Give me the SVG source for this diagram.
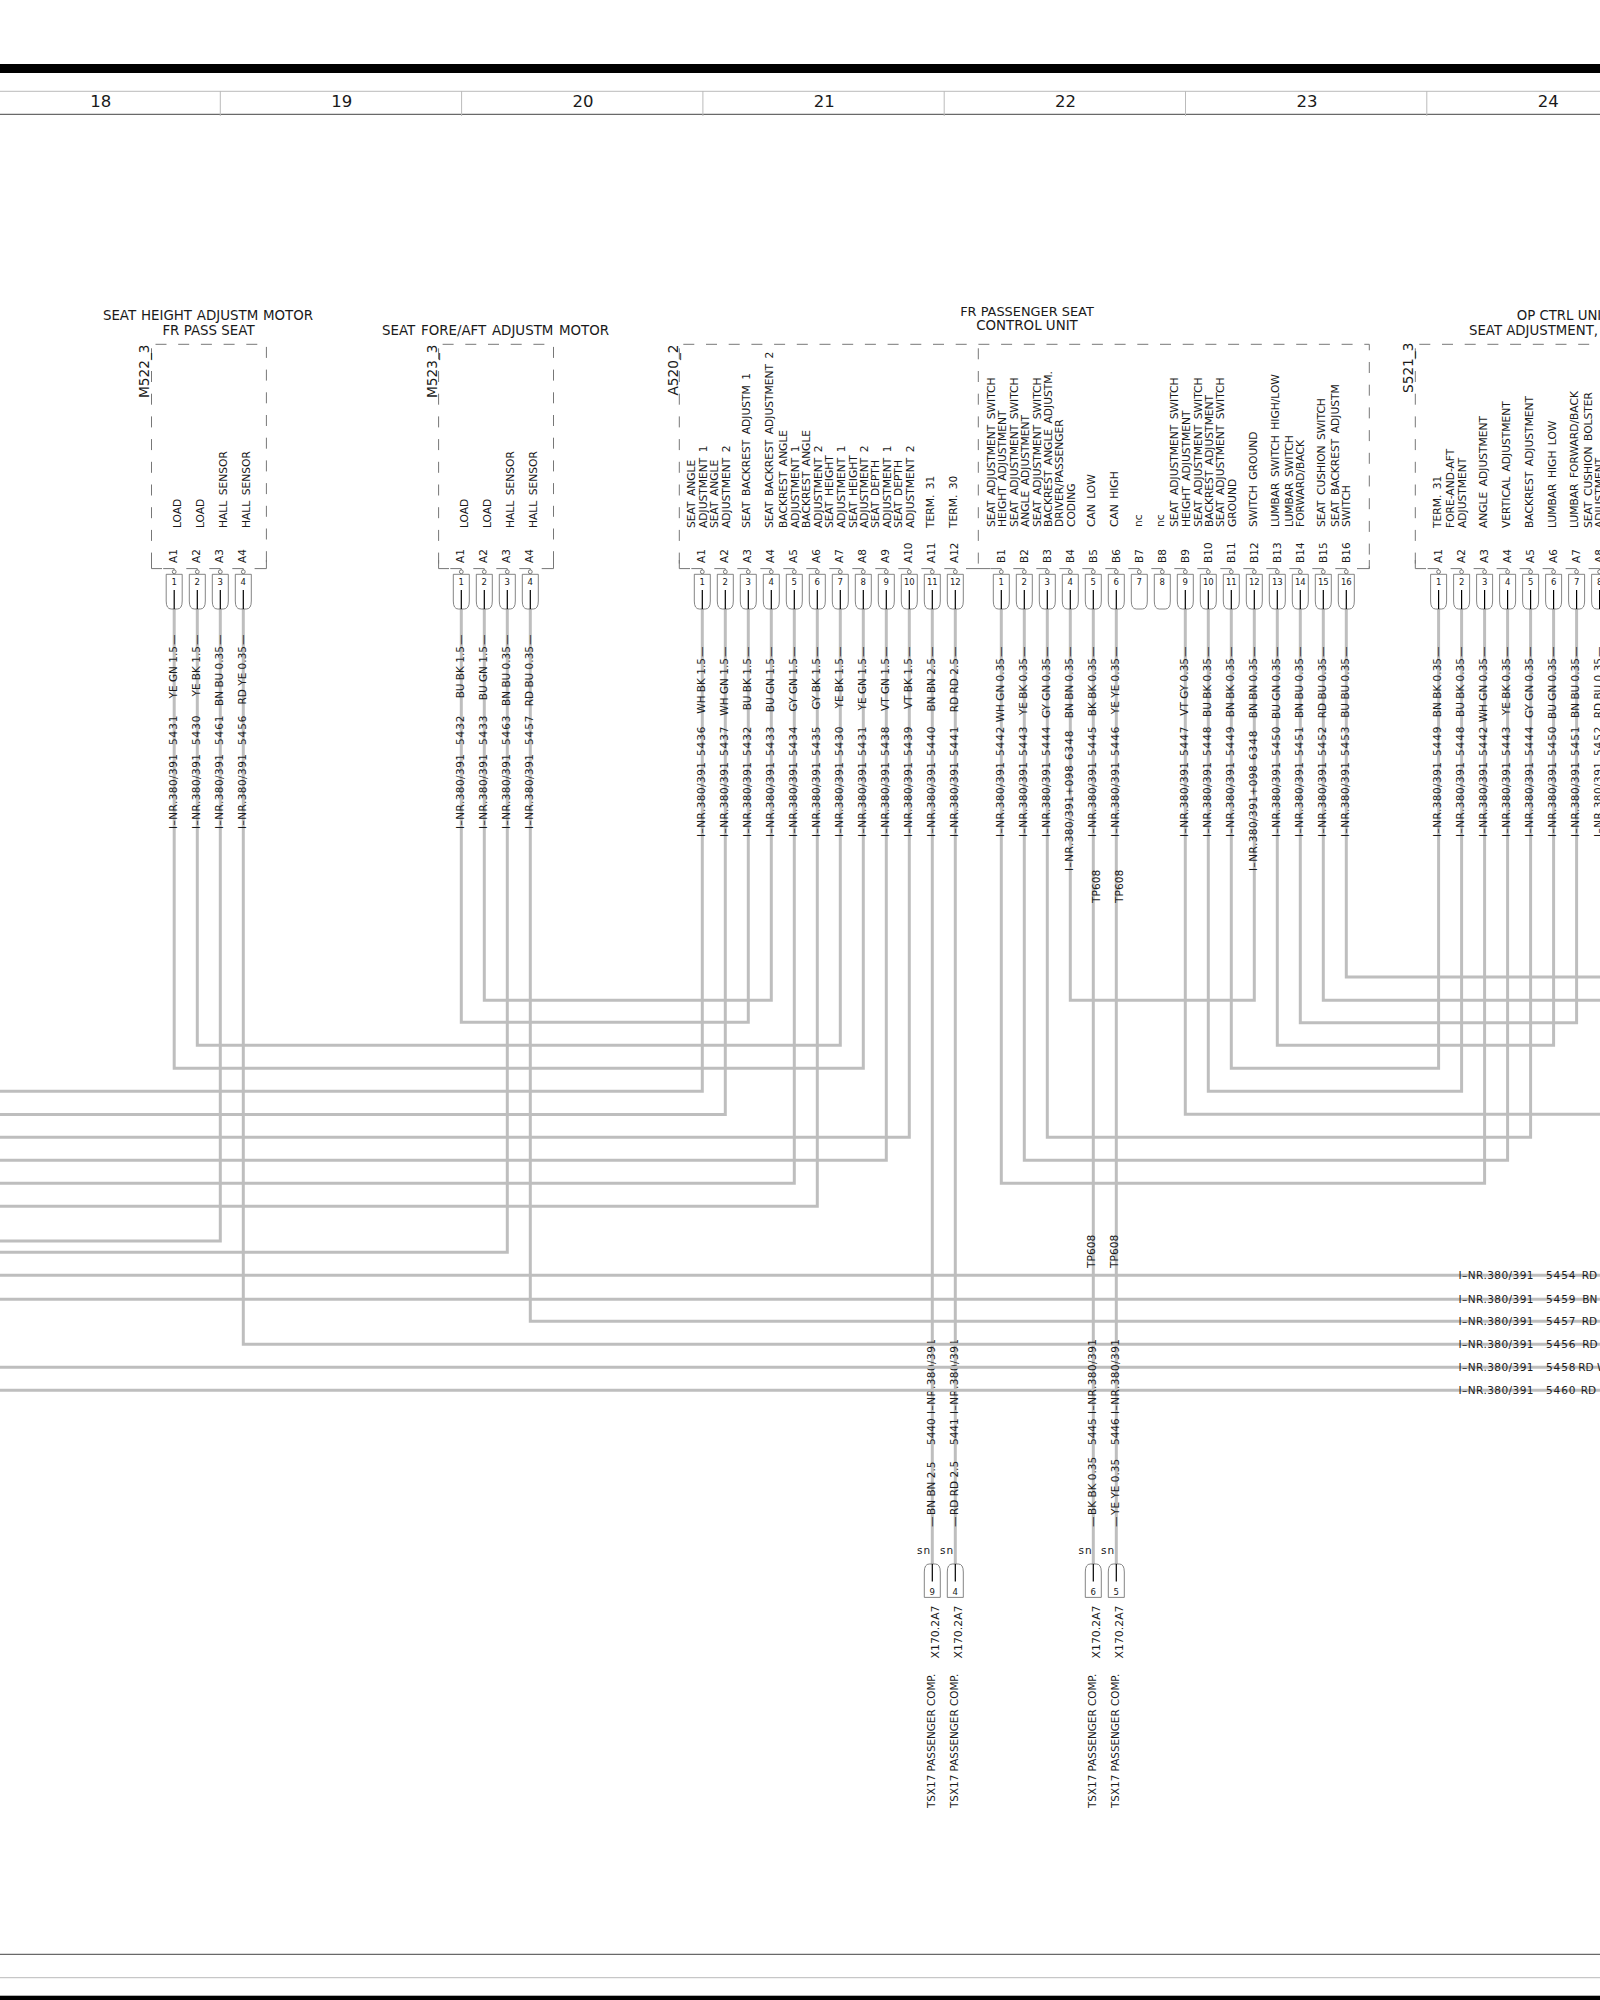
<svg xmlns="http://www.w3.org/2000/svg" xmlns:xlink="http://www.w3.org/1999/xlink" width="1600" height="2000" viewBox="0 0 1600 2000">
<style>
text{font-family:"DejaVu Sans",sans-serif;fill:#1a1a1a}
.w{fill:none;stroke:#bebebe;stroke-width:3}
.box{fill:none;stroke:#777;stroke-width:1;stroke-dasharray:11 11.7;stroke-dashoffset:-4}
.c{fill:none;stroke:#777;stroke-width:1}
.p{fill:none;stroke:#666;stroke-width:.8}
.k{fill:none;stroke:#000;stroke-width:1.2}
.ttl{font-size:13.4px;text-anchor:middle}
.ttl2{font-size:13.3px}
.dev{font-size:13.7px}
.f{font-size:10.7px;word-spacing:2px}
.l{font-size:10.5px}
.n{font-size:8.5px;text-anchor:middle}
.col{font-size:16.5px;text-anchor:middle}
.a{letter-spacing:.45px}
.b{letter-spacing:.9px}
.e{text-anchor:end}
.sn{font-size:10.5px;letter-spacing:1px;text-anchor:middle}
.t1{font-size:10.4px}
.t2{font-size:10.9px}
</style>
<defs>
<g id="pinhead">
<path class="c" d="M-11 568.6H0V570"/>
<circle class="c" cx="0" cy="571.8" r="1.9"/>
<path class="p" d="M-8 574.3H8V601Q8 609 3 609H-3Q-8 609-8 601Z"/>
</g>
<g id="pin"><use href="#pinhead"/><path class="k" d="M0 590V609"/></g>
<g id="plug"><path class="p" d="M-8 1597.4V1572Q-8 1564-3 1564H3Q8 1564 8 1572V1597.4Z"/><path class="k" d="M0 1564V1581.6"/></g>
</defs>
<rect width="1600" height="2000" fill="#fff"/>
<g id="frame">
<rect x="0" y="64" width="1600" height="9" fill="#000"/>
<path d="M0 91.3H1600" stroke="#bbb" stroke-width="1"/>
<path d="M0 114.3H1600" stroke="#444" stroke-width="1"/>
<path d="M220.3 91V116M461.6 91V116M702.9 91V116M944.2 91V116M1185.5 91V116M1426.8 91V116" stroke="#bbb" stroke-width="1" fill="none"/>
<text class="col" x="100.7" y="107.3">18</text>
<text class="col" x="341.7" y="107.3">19</text>
<text class="col" x="583" y="107.3">20</text>
<text class="col" x="824.3" y="107.3">21</text>
<text class="col" x="1065.6" y="107.3">22</text>
<text class="col" x="1306.9" y="107.3">23</text>
<text class="col" x="1548.2" y="107.3">24</text>
<path d="M0 1954.3H1600" stroke="#444" stroke-width="1"/>
<path d="M0 1977.7H1600" stroke="#bbb" stroke-width="1"/>
<rect x="0" y="1995.7" width="1600" height="4.3" fill="#000"/>
</g>
<g id="connectors">
<path class="w" d="M932.3 609V1564M955.3 609V1564"/>
<text class="l" transform="translate(934.8 1529) rotate(-90)"><tspan x="2">—</tspan><tspan x="14">BN BN 2.5</tspan><tspan x="84">5440</tspan><tspan class="a" x="115">I–NR.380/391</tspan></text>
<text class="l" transform="translate(957.8 1529) rotate(-90)"><tspan x="2">—</tspan><tspan x="14">RD RD 2.5</tspan><tspan x="84">5441</tspan><tspan class="a" x="115">I–NR.380/391</tspan></text>
<path class="w" d="M1093.3 609V1564M1116.3 609V1564"/>
<path class="w" d="M174.2 609V1068.3H863.3V609"/>
<path class="w" d="M197.3 609V1045.3H840.3V609"/>
<path class="w" d="M220.3 609V1241H0"/>
<path class="w" d="M243.3 609V1344.3H1600"/>
<path class="w" d="M461.3 609V1022.3H748.3V609"/>
<path class="w" d="M484.3 609V1000.3H771.3V609"/>
<path class="w" d="M507.3 609V1252.3H0"/>
<path class="w" d="M530.3 609V1321.3H1600"/>
<path class="w" d="M702.3 609V1091.3H0"/>
<path class="w" d="M725.3 609V1114.5H0"/>
<path class="w" d="M794.3 609V1183.3H0"/>
<path class="w" d="M817.3 609V1206.3H0"/>
<path class="w" d="M886.3 609V1160.3H0"/>
<path class="w" d="M909.3 609V1137.3H0"/>
<path class="w" d="M1001.3 609V1183.3H1484.6V609"/>
<path class="w" d="M1024.3 609V1160.3H1507.6V609"/>
<path class="w" d="M1047.3 609V1137.3H1530.6V609"/>
<path class="w" d="M1070.3 609V1000.3H1254.3V609"/>
<path class="w" d="M1185.3 609V1114.3H1600"/>
<path class="w" d="M1208.3 609V1091.3H1461.6V609"/>
<path class="w" d="M1231.3 609V1068.3H1438.6V609"/>
<path class="w" d="M1277.3 609V1045.3H1553.6V609"/>
<path class="w" d="M1300.3 609V1022.7H1576.6V609"/>
<path class="w" d="M1323.3 609V1000.3H1600"/>
<path class="w" d="M1346.3 609V977H1600"/>
<path class="w" d="M0 1275.3H1600M0 1299.3H1600M0 1367.3H1600M0 1390.3H1600"/>
<text class="l" transform="translate(1095.8 1529) rotate(-90)"><tspan x="2">—</tspan><tspan x="14">BK BK 0.35</tspan><tspan x="84">5445</tspan><tspan class="a" x="115">I–NR.380/391</tspan></text>
<text class="l" transform="translate(1118.8 1529) rotate(-90)"><tspan x="2">—</tspan><tspan x="14">YE YE 0.35</tspan><tspan x="84">5446</tspan><tspan class="a" x="115">I–NR.380/391</tspan></text>
<text class="f" transform="translate(1100 903) rotate(-90)">TP608</text>
<text class="f" transform="translate(1123 903) rotate(-90)">TP608</text>
<text class="f" transform="translate(1095 1268) rotate(-90)">TP608</text>
<text class="f" transform="translate(1118 1268) rotate(-90)">TP608</text>
<text class="l" y="1278.8"><tspan class="a" x="1458.5">I–NR.380/391</tspan><tspan class="b" x="1546">5454</tspan><tspan x="1581.7">RD</tspan></text>
<text class="l" y="1302.8"><tspan class="a" x="1458.5">I–NR.380/391</tspan><tspan class="b" x="1546">5459</tspan><tspan x="1582.3">BN</tspan></text>
<text class="l" y="1324.8"><tspan class="a" x="1458.5">I–NR.380/391</tspan><tspan class="b" x="1546">5457</tspan><tspan x="1581.7">RD</tspan></text>
<text class="l" y="1347.8"><tspan class="a" x="1458.5">I–NR.380/391</tspan><tspan class="b" x="1546">5456</tspan><tspan x="1582.3">RD</tspan></text>
<text class="l" y="1370.8"><tspan class="a" x="1458.5">I–NR.380/391</tspan><tspan class="b" x="1546">5458</tspan><tspan x="1578.3">RD W</tspan></text>
<text class="l" y="1393.8"><tspan class="a" x="1458.5">I–NR.380/391</tspan><tspan class="b" x="1546">5460</tspan><tspan x="1580.7">RD</tspan></text>
</g>
<g id="M522_3">
<text class="ttl" x="208" y="320" style="word-spacing:.5px">SEAT HEIGHT ADJUSTM MOTOR</text>
<text class="ttl" x="208.5" y="334.6">FR PASS SEAT</text>
<path class="box" d="M151.5 344.3H266.4V568.6M151.5 344.3V568.6"/>
<path class="c" d="M151.5 560V568.6H162M254.6 568.6H266.4V560"/>
<text class="dev" transform="translate(149.4 398) rotate(-90)">M522_3</text>
<use href="#pin" x="174.2"/><use href="#pin" x="197.3"/><use href="#pin" x="220.3"/><use href="#pin" x="243.3"/>
<text class="n" x="174.2" y="585">1</text><text class="n" x="197.3" y="585">2</text><text class="n" x="220.3" y="585">3</text><text class="n" x="243.3" y="585">4</text>
<text class="l" transform="translate(176.9 563) rotate(-90)">A1</text><text class="l" transform="translate(200 563) rotate(-90)">A2</text><text class="l" transform="translate(223 563) rotate(-90)">A3</text><text class="l" transform="translate(246 563) rotate(-90)">A4</text>
<text class="f" transform="translate(181 528) rotate(-90)">LOAD</text><text class="f" transform="translate(204 528) rotate(-90)">LOAD</text><text class="f" transform="translate(227 528) rotate(-90)">HALL SENSOR</text><text class="f" transform="translate(250 528) rotate(-90)">HALL SENSOR</text>
<text class="l" transform="translate(176.7 829) rotate(-90)"><tspan class="a" x="0">I–NR.380/391</tspan><tspan class="b" x="84">5431</tspan><tspan class="e" x="183">YE GN 1.5</tspan><tspan x="184">—</tspan></text>
<text class="l" transform="translate(199.8 829) rotate(-90)"><tspan class="a" x="0">I–NR.380/391</tspan><tspan class="b" x="84">5430</tspan><tspan class="e" x="183">YE BK 1.5</tspan><tspan x="184">—</tspan></text>
<text class="l" transform="translate(222.8 829) rotate(-90)"><tspan class="a" x="0">I–NR.380/391</tspan><tspan class="b" x="84">5461</tspan><tspan class="e" x="183">BN BU 0.35</tspan><tspan x="184">—</tspan></text>
<text class="l" transform="translate(245.8 829) rotate(-90)"><tspan class="a" x="0">I–NR.380/391</tspan><tspan class="b" x="84">5456</tspan><tspan class="e" x="183">RD YE 0.35</tspan><tspan x="184">—</tspan></text>
</g>
<g id="M523_3">
<text class="ttl" x="495.6" y="334.6" style="word-spacing:1.4px">SEAT FORE/AFT ADJUSTM MOTOR</text>
<path class="box" d="M438.6 344.3H553.5V568.6M438.6 344.3V568.6"/>
<path class="c" d="M438.6 560V568.6H449M541.7 568.6H553.5V560"/>
<text class="dev" transform="translate(436.5 398) rotate(-90)">M523_3</text>
<use href="#pin" x="461.3"/><use href="#pin" x="484.3"/><use href="#pin" x="507.3"/><use href="#pin" x="530.3"/>
<text class="n" x="461.3" y="585">1</text><text class="n" x="484.3" y="585">2</text><text class="n" x="507.3" y="585">3</text><text class="n" x="530.3" y="585">4</text>
<text class="l" transform="translate(464 563) rotate(-90)">A1</text><text class="l" transform="translate(487 563) rotate(-90)">A2</text><text class="l" transform="translate(510 563) rotate(-90)">A3</text><text class="l" transform="translate(533 563) rotate(-90)">A4</text>
<text class="f" transform="translate(468 528) rotate(-90)">LOAD</text><text class="f" transform="translate(491 528) rotate(-90)">LOAD</text><text class="f" transform="translate(514 528) rotate(-90)">HALL SENSOR</text><text class="f" transform="translate(537 528) rotate(-90)">HALL SENSOR</text>
<text class="l" transform="translate(463.8 829) rotate(-90)"><tspan class="a" x="0">I–NR.380/391</tspan><tspan class="b" x="84">5432</tspan><tspan class="e" x="183">BU BK 1.5</tspan><tspan x="184">—</tspan></text>
<text class="l" transform="translate(486.8 829) rotate(-90)"><tspan class="a" x="0">I–NR.380/391</tspan><tspan class="b" x="84">5433</tspan><tspan class="e" x="183">BU GN 1.5</tspan><tspan x="184">—</tspan></text>
<text class="l" transform="translate(509.8 829) rotate(-90)"><tspan class="a" x="0">I–NR.380/391</tspan><tspan class="b" x="84">5463</tspan><tspan class="e" x="183">BN BU 0.35</tspan><tspan x="184">—</tspan></text>
<text class="l" transform="translate(532.8 829) rotate(-90)"><tspan class="a" x="0">I–NR.380/391</tspan><tspan class="b" x="84">5457</tspan><tspan class="e" x="183">RD BU 0.35</tspan><tspan x="184">—</tspan></text>
</g>
<g id="A520_2">
<text class="ttl" x="1027" y="315.5" style="font-size:12.9px">FR PASSENGER SEAT</text>
<text class="ttl" x="1027" y="329.5">CONTROL UNIT</text>
<path class="box" d="M679.3 344.3H1369.3V568.6M679.3 344.3V568.6M978.3 344.3V568.6"/>
<path class="c" d="M679.3 560V568.6H690M966 568.6H990M1357 568.6H1369.3V560"/>
<text class="dev" transform="translate(678 395.5) rotate(-90)">A520_2</text>
<use href="#pin" x="702.3"/><use href="#pin" x="725.3"/><use href="#pin" x="748.3"/><use href="#pin" x="771.3"/><use href="#pin" x="794.3"/><use href="#pin" x="817.3"/><use href="#pin" x="840.3"/><use href="#pin" x="863.3"/><use href="#pin" x="886.3"/><use href="#pin" x="909.3"/><use href="#pin" x="932.3"/><use href="#pin" x="955.3"/>
<text class="n" x="702.3" y="585">1</text><text class="n" x="725.3" y="585">2</text><text class="n" x="748.3" y="585">3</text><text class="n" x="771.3" y="585">4</text><text class="n" x="794.3" y="585">5</text><text class="n" x="817.3" y="585">6</text><text class="n" x="840.3" y="585">7</text><text class="n" x="863.3" y="585">8</text><text class="n" x="886.3" y="585">9</text><text class="n" x="909.3" y="585">10</text><text class="n" x="932.3" y="585">11</text><text class="n" x="955.3" y="585">12</text>
<text class="l" transform="translate(705.3 563) rotate(-90)">A1</text><text class="l" transform="translate(728.3 563) rotate(-90)">A2</text><text class="l" transform="translate(751.3 563) rotate(-90)">A3</text><text class="l" transform="translate(774.3 563) rotate(-90)">A4</text><text class="l" transform="translate(797.3 563) rotate(-90)">A5</text><text class="l" transform="translate(820.3 563) rotate(-90)">A6</text><text class="l" transform="translate(843.3 563) rotate(-90)">A7</text><text class="l" transform="translate(866.3 563) rotate(-90)">A8</text><text class="l" transform="translate(889.3 563) rotate(-90)">A9</text><text class="l" transform="translate(912.3 563) rotate(-90)">A10</text><text class="l" transform="translate(935.3 563) rotate(-90)">A11</text><text class="l" transform="translate(958.3 563) rotate(-90)">A12</text>
<text class="f" transform="translate(695 528) rotate(-90)">SEAT ANGLE</text>
<text class="f" transform="translate(707.3 528) rotate(-90)">ADJUSTMENT 1</text>
<text class="f" transform="translate(718.3 528) rotate(-90)">SEAT ANGLE</text>
<text class="f" transform="translate(730.3 528) rotate(-90)">ADJUSTMENT 2</text>
<text class="f" transform="translate(750 528) rotate(-90)">SEAT BACKREST ADJUSTM 1</text>
<text class="f" transform="translate(773.3 528) rotate(-90)">SEAT BACKREST ADJUSTMENT 2</text>
<text class="f" transform="translate(786.7 528) rotate(-90)">BACKREST ANGLE</text>
<text class="f" transform="translate(798.7 528) rotate(-90)">ADJUSTMENT 1</text>
<text class="f" transform="translate(810 528) rotate(-90)">BACKREST ANGLE</text>
<text class="f" transform="translate(821.7 528) rotate(-90)">ADJUSTMENT 2</text>
<text class="f" transform="translate(833.3 528) rotate(-90)">SEAT HEIGHT</text>
<text class="f" transform="translate(845 528) rotate(-90)">ADJUSTMENT 1</text>
<text class="f" transform="translate(856.7 528) rotate(-90)">SEAT HEIGHT</text>
<text class="f" transform="translate(868 528) rotate(-90)">ADJUSTMENT 2</text>
<text class="f" transform="translate(879.3 528) rotate(-90)">SEAT DEPTH</text>
<text class="f" transform="translate(891 528) rotate(-90)">ADJUSTMENT 1</text>
<text class="f" transform="translate(902.3 528) rotate(-90)">SEAT DEPTH</text>
<text class="f" transform="translate(914 528) rotate(-90)">ADJUSTMENT 2</text>
<text class="f" transform="translate(934.3 528) rotate(-90)">TERM. 31</text>
<text class="f" transform="translate(957.3 528) rotate(-90)">TERM. 30</text>
<text class="l" transform="translate(704.8 837) rotate(-90)"><tspan class="a" x="0">I–NR.380/391</tspan><tspan class="b" x="81">5436</tspan><tspan class="e" x="179">WH BK 1.5</tspan><tspan x="180">—</tspan></text>
<text class="l" transform="translate(727.8 837) rotate(-90)"><tspan class="a" x="0">I–NR.380/391</tspan><tspan class="b" x="81">5437</tspan><tspan class="e" x="179">WH GN 1.5</tspan><tspan x="180">—</tspan></text>
<text class="l" transform="translate(750.8 837) rotate(-90)"><tspan class="a" x="0">I–NR.380/391</tspan><tspan class="b" x="81">5432</tspan><tspan class="e" x="179">BU BK 1.5</tspan><tspan x="180">—</tspan></text>
<text class="l" transform="translate(773.8 837) rotate(-90)"><tspan class="a" x="0">I–NR.380/391</tspan><tspan class="b" x="81">5433</tspan><tspan class="e" x="179">BU GN 1.5</tspan><tspan x="180">—</tspan></text>
<text class="l" transform="translate(796.8 837) rotate(-90)"><tspan class="a" x="0">I–NR.380/391</tspan><tspan class="b" x="81">5434</tspan><tspan class="e" x="179">GY GN 1.5</tspan><tspan x="180">—</tspan></text>
<text class="l" transform="translate(819.8 837) rotate(-90)"><tspan class="a" x="0">I–NR.380/391</tspan><tspan class="b" x="81">5435</tspan><tspan class="e" x="179">GY BK 1.5</tspan><tspan x="180">—</tspan></text>
<text class="l" transform="translate(842.8 837) rotate(-90)"><tspan class="a" x="0">I–NR.380/391</tspan><tspan class="b" x="81">5430</tspan><tspan class="e" x="179">YE BK 1.5</tspan><tspan x="180">—</tspan></text>
<text class="l" transform="translate(865.8 837) rotate(-90)"><tspan class="a" x="0">I–NR.380/391</tspan><tspan class="b" x="81">5431</tspan><tspan class="e" x="179">YE GN 1.5</tspan><tspan x="180">—</tspan></text>
<text class="l" transform="translate(888.8 837) rotate(-90)"><tspan class="a" x="0">I–NR.380/391</tspan><tspan class="b" x="81">5438</tspan><tspan class="e" x="179">VT GN 1.5</tspan><tspan x="180">—</tspan></text>
<text class="l" transform="translate(911.8 837) rotate(-90)"><tspan class="a" x="0">I–NR.380/391</tspan><tspan class="b" x="81">5439</tspan><tspan class="e" x="179">VT BK 1.5</tspan><tspan x="180">—</tspan></text>
<text class="l" transform="translate(934.8 837) rotate(-90)"><tspan class="a" x="0">I–NR.380/391</tspan><tspan class="b" x="81">5440</tspan><tspan class="e" x="179">BN BN 2.5</tspan><tspan x="180">—</tspan></text>
<text class="l" transform="translate(957.8 837) rotate(-90)"><tspan class="a" x="0">I–NR.380/391</tspan><tspan class="b" x="81">5441</tspan><tspan class="e" x="179">RD RD 2.5</tspan><tspan x="180">—</tspan></text>
<use href="#pin" x="1001.3"/><use href="#pin" x="1024.3"/><use href="#pin" x="1047.3"/><use href="#pin" x="1070.3"/><use href="#pin" x="1093.3"/><use href="#pin" x="1116.3"/><use href="#pinhead" x="1139.3"/><use href="#pinhead" x="1162.3"/><use href="#pin" x="1185.3"/><use href="#pin" x="1208.3"/><use href="#pin" x="1231.3"/><use href="#pin" x="1254.3"/><use href="#pin" x="1277.3"/><use href="#pin" x="1300.3"/><use href="#pin" x="1323.3"/><use href="#pin" x="1346.3"/>
<text class="n" x="1001.3" y="585">1</text><text class="n" x="1024.3" y="585">2</text><text class="n" x="1047.3" y="585">3</text><text class="n" x="1070.3" y="585">4</text><text class="n" x="1093.3" y="585">5</text><text class="n" x="1116.3" y="585">6</text><text class="n" x="1139.3" y="585">7</text><text class="n" x="1162.3" y="585">8</text><text class="n" x="1185.3" y="585">9</text><text class="n" x="1208.3" y="585">10</text><text class="n" x="1231.3" y="585">11</text><text class="n" x="1254.3" y="585">12</text><text class="n" x="1277.3" y="585">13</text><text class="n" x="1300.3" y="585">14</text><text class="n" x="1323.3" y="585">15</text><text class="n" x="1346.3" y="585">16</text>
<text class="l" transform="translate(1004.6 563) rotate(-90)">B1</text><text class="l" transform="translate(1027.6 563) rotate(-90)">B2</text><text class="l" transform="translate(1050.6 563) rotate(-90)">B3</text><text class="l" transform="translate(1073.6 563) rotate(-90)">B4</text><text class="l" transform="translate(1096.6 563) rotate(-90)">B5</text><text class="l" transform="translate(1119.6 563) rotate(-90)">B6</text><text class="l" transform="translate(1142.6 563) rotate(-90)">B7</text><text class="l" transform="translate(1165.6 563) rotate(-90)">B8</text><text class="l" transform="translate(1188.6 563) rotate(-90)">B9</text><text class="l" transform="translate(1211.6 563) rotate(-90)">B10</text><text class="l" transform="translate(1234.6 563) rotate(-90)">B11</text><text class="l" transform="translate(1257.6 563) rotate(-90)">B12</text><text class="l" transform="translate(1280.6 563) rotate(-90)">B13</text><text class="l" transform="translate(1303.6 563) rotate(-90)">B14</text><text class="l" transform="translate(1326.6 563) rotate(-90)">B15</text><text class="l" transform="translate(1349.6 563) rotate(-90)">B16</text>
<text class="f" transform="translate(995 527) rotate(-90)">SEAT ADJUSTMENT SWITCH</text>
<text class="f" transform="translate(1006 527) rotate(-90)">HEIGHT ADJUSTMENT</text>
<text class="f" transform="translate(1017.7 527) rotate(-90)">SEAT ADJUSTMENT SWITCH</text>
<text class="f" transform="translate(1029.3 527) rotate(-90)">ANGLE ADJUSTMENT</text>
<text class="f" transform="translate(1041 527) rotate(-90)">SEAT ADJUSTMENT SWITCH</text>
<text class="f" transform="translate(1052.3 527) rotate(-90)">BACKREST ANGLE ADJUSTM.</text>
<text class="f" transform="translate(1063.3 527) rotate(-90)">DRIVER/PASSENGER</text>
<text class="f" transform="translate(1075 527) rotate(-90)">CODING</text>
<text class="f" transform="translate(1095.3 527) rotate(-90)">CAN LOW</text>
<text class="f" transform="translate(1118.3 527) rotate(-90)">CAN HIGH</text>
<text class="f" transform="translate(1141.7 527) rotate(-90)">nc</text>
<text class="f" transform="translate(1164 527) rotate(-90)">nc</text>
<text class="f" transform="translate(1178.3 527) rotate(-90)">SEAT ADJUSTMENT SWITCH</text>
<text class="f" transform="translate(1190 527) rotate(-90)">HEIGHT ADJUSTMENT</text>
<text class="f" transform="translate(1201.7 527) rotate(-90)">SEAT ADJUSTMENT SWITCH</text>
<text class="f" transform="translate(1212.7 527) rotate(-90)">BACKREST ADJUSTMENT</text>
<text class="f" transform="translate(1224.3 527) rotate(-90)">SEAT ADJUSTMENT SWITCH</text>
<text class="f" transform="translate(1235.7 527) rotate(-90)">GROUND</text>
<text class="f" transform="translate(1256.7 527) rotate(-90)">SWITCH GROUND</text>
<text class="f" transform="translate(1279.3 527) rotate(-90)">LUMBAR SWITCH HIGH/LOW</text>
<text class="f" transform="translate(1292.7 527) rotate(-90)">LUMBAR SWITCH</text>
<text class="f" transform="translate(1304 527) rotate(-90)">FORWARD/BACK</text>
<text class="f" transform="translate(1325 527) rotate(-90)">SEAT CUSHION SWITCH</text>
<text class="f" transform="translate(1339.3 527) rotate(-90)">SEAT BACKREST ADJUSTM</text>
<text class="f" transform="translate(1350.3 527) rotate(-90)">SWITCH</text>
<text class="l" transform="translate(1003.8 837) rotate(-90)"><tspan class="a" x="0">I–NR.380/391</tspan><tspan class="b" x="81">5442</tspan><tspan class="e" x="179">WH GN 0.35</tspan><tspan x="180">—</tspan></text>
<text class="l" transform="translate(1026.8 837) rotate(-90)"><tspan class="a" x="0">I–NR.380/391</tspan><tspan class="b" x="81">5443</tspan><tspan class="e" x="179">YE BK 0.35</tspan><tspan x="180">—</tspan></text>
<text class="l" transform="translate(1049.8 837) rotate(-90)"><tspan class="a" x="0">I–NR.380/391</tspan><tspan class="b" x="81">5444</tspan><tspan class="e" x="179">GY GN 0.35</tspan><tspan x="180">—</tspan></text>
<text class="l" transform="translate(1072.8 871) rotate(-90)"><tspan class="a" x="0">I–NR.380/391+098</tspan><tspan class="b" x="111">6348</tspan><tspan class="e" x="213">BN BN 0.35</tspan><tspan x="214">—</tspan></text>
<text class="l" transform="translate(1095.8 837) rotate(-90)"><tspan class="a" x="0">I–NR.380/391</tspan><tspan class="b" x="81">5445</tspan><tspan class="e" x="179">BK BK 0.35</tspan><tspan x="180">—</tspan></text>
<text class="l" transform="translate(1118.8 837) rotate(-90)"><tspan class="a" x="0">I–NR.380/391</tspan><tspan class="b" x="81">5446</tspan><tspan class="e" x="179">YE YE 0.35</tspan><tspan x="180">—</tspan></text>
<text class="l" transform="translate(1187.8 837) rotate(-90)"><tspan class="a" x="0">I–NR.380/391</tspan><tspan class="b" x="81">5447</tspan><tspan class="e" x="179">VT GY 0.35</tspan><tspan x="180">—</tspan></text>
<text class="l" transform="translate(1210.8 837) rotate(-90)"><tspan class="a" x="0">I–NR.380/391</tspan><tspan class="b" x="81">5448</tspan><tspan class="e" x="179">BU BK 0.35</tspan><tspan x="180">—</tspan></text>
<text class="l" transform="translate(1233.8 837) rotate(-90)"><tspan class="a" x="0">I–NR.380/391</tspan><tspan class="b" x="81">5449</tspan><tspan class="e" x="179">BN BK 0.35</tspan><tspan x="180">—</tspan></text>
<text class="l" transform="translate(1256.8 871) rotate(-90)"><tspan class="a" x="0">I–NR.380/391+098</tspan><tspan class="b" x="111">6348</tspan><tspan class="e" x="213">BN BN 0.35</tspan><tspan x="214">—</tspan></text>
<text class="l" transform="translate(1279.8 837) rotate(-90)"><tspan class="a" x="0">I–NR.380/391</tspan><tspan class="b" x="81">5450</tspan><tspan class="e" x="179">BU GN 0.35</tspan><tspan x="180">—</tspan></text>
<text class="l" transform="translate(1302.8 837) rotate(-90)"><tspan class="a" x="0">I–NR.380/391</tspan><tspan class="b" x="81">5451</tspan><tspan class="e" x="179">BN BU 0.35</tspan><tspan x="180">—</tspan></text>
<text class="l" transform="translate(1325.8 837) rotate(-90)"><tspan class="a" x="0">I–NR.380/391</tspan><tspan class="b" x="81">5452</tspan><tspan class="e" x="179">RD BU 0.35</tspan><tspan x="180">—</tspan></text>
<text class="l" transform="translate(1348.8 837) rotate(-90)"><tspan class="a" x="0">I–NR.380/391</tspan><tspan class="b" x="81">5453</tspan><tspan class="e" x="179">BU BU 0.35</tspan><tspan x="180">—</tspan></text>
</g>
<g id="S521_3">
<text class="ttl2" x="1516.7" y="320">OP CTRL UNI</text>
<text class="ttl2" x="1469" y="334.6">SEAT ADJUSTMENT,</text>
<path class="box" d="M1415.3 344.3H1600M1415.3 344.3V568.6"/>
<path class="c" d="M1415.3 560V568.6H1426"/>
<text class="dev" transform="translate(1413 393) rotate(-90)">S521_3</text>
<use href="#pin" x="1438.6"/><use href="#pin" x="1461.6"/><use href="#pin" x="1484.6"/><use href="#pin" x="1507.6"/><use href="#pin" x="1530.6"/><use href="#pin" x="1553.6"/><use href="#pin" x="1576.6"/><use href="#pin" x="1599.6"/>
<text class="n" x="1438.6" y="585">1</text><text class="n" x="1461.6" y="585">2</text><text class="n" x="1484.6" y="585">3</text><text class="n" x="1507.6" y="585">4</text><text class="n" x="1530.6" y="585">5</text><text class="n" x="1553.6" y="585">6</text><text class="n" x="1576.6" y="585">7</text><text class="n" x="1599.6" y="585">8</text>
<text class="l" transform="translate(1441.6 563) rotate(-90)">A1</text><text class="l" transform="translate(1464.6 563) rotate(-90)">A2</text><text class="l" transform="translate(1487.6 563) rotate(-90)">A3</text><text class="l" transform="translate(1510.6 563) rotate(-90)">A4</text><text class="l" transform="translate(1533.6 563) rotate(-90)">A5</text><text class="l" transform="translate(1556.6 563) rotate(-90)">A6</text><text class="l" transform="translate(1579.6 563) rotate(-90)">A7</text><text class="l" transform="translate(1602.6 563) rotate(-90)">A8</text>
<text class="f" transform="translate(1441 528) rotate(-90)">TERM. 31</text>
<text class="f" transform="translate(1454.3 528) rotate(-90)">FORE-AND-AFT</text>
<text class="f" transform="translate(1465.7 528) rotate(-90)">ADJUSTMENT</text>
<text class="f" transform="translate(1486.7 528) rotate(-90)">ANGLE ADJUSTMENT</text>
<text class="f" transform="translate(1510 528) rotate(-90)">VERTICAL ADJUSTMENT</text>
<text class="f" transform="translate(1532.7 528) rotate(-90)">BACKREST ADJUSTMENT</text>
<text class="f" transform="translate(1555.7 528) rotate(-90)">LUMBAR HIGH LOW</text>
<text class="f" transform="translate(1578.3 528) rotate(-90)">LUMBAR FORWARD/BACK</text>
<text class="f" transform="translate(1591.7 528) rotate(-90)">SEAT CUSHION BOLSTER</text>
<text class="f" transform="translate(1603 528) rotate(-90)">ADJUSTMENT</text>
<text class="l" transform="translate(1441 837) rotate(-90)"><tspan class="a" x="0">I–NR.380/391</tspan><tspan class="b" x="81">5449</tspan><tspan class="e" x="179">BN BK 0.35</tspan><tspan x="180">—</tspan></text>
<text class="l" transform="translate(1464 837) rotate(-90)"><tspan class="a" x="0">I–NR.380/391</tspan><tspan class="b" x="81">5448</tspan><tspan class="e" x="179">BU BK 0.35</tspan><tspan x="180">—</tspan></text>
<text class="l" transform="translate(1487 837) rotate(-90)"><tspan class="a" x="0">I–NR.380/391</tspan><tspan class="b" x="81">5442</tspan><tspan class="e" x="179">WH GN 0.35</tspan><tspan x="180">—</tspan></text>
<text class="l" transform="translate(1510 837) rotate(-90)"><tspan class="a" x="0">I–NR.380/391</tspan><tspan class="b" x="81">5443</tspan><tspan class="e" x="179">YE BK 0.35</tspan><tspan x="180">—</tspan></text>
<text class="l" transform="translate(1533 837) rotate(-90)"><tspan class="a" x="0">I–NR.380/391</tspan><tspan class="b" x="81">5444</tspan><tspan class="e" x="179">GY GN 0.35</tspan><tspan x="180">—</tspan></text>
<text class="l" transform="translate(1556 837) rotate(-90)"><tspan class="a" x="0">I–NR.380/391</tspan><tspan class="b" x="81">5450</tspan><tspan class="e" x="179">BU GN 0.35</tspan><tspan x="180">—</tspan></text>
<text class="l" transform="translate(1579 837) rotate(-90)"><tspan class="a" x="0">I–NR.380/391</tspan><tspan class="b" x="81">5451</tspan><tspan class="e" x="179">BN BU 0.35</tspan><tspan x="180">—</tspan></text>
<text class="l" transform="translate(1601.5 837) rotate(-90)"><tspan class="a" x="0">I–NR.380/391</tspan><tspan class="b" x="81">5452</tspan><tspan class="e" x="179">RD BU 0.35</tspan><tspan x="180">—</tspan></text>
</g>
<g id="X170_2A7">
<use href="#plug" x="932.3"/><use href="#plug" x="955.3"/><use href="#plug" x="1093.3"/><use href="#plug" x="1116.3"/>
<text class="n" x="932.3" y="1595">9</text><text class="n" x="955.3" y="1595">4</text><text class="n" x="1093.3" y="1595">6</text><text class="n" x="1116.3" y="1595">5</text>
<text class="sn" x="924" y="1554">sn</text><text class="sn" x="947" y="1554">sn</text><text class="sn" x="1085.5" y="1554">sn</text><text class="sn" x="1108" y="1554">sn</text>
<text class="t2" transform="translate(938.5 1658.5) rotate(-90)">X170.2A7</text><text class="t2" transform="translate(961.5 1658.5) rotate(-90)">X170.2A7</text><text class="t2" transform="translate(1099.5 1658.5) rotate(-90)">X170.2A7</text><text class="t2" transform="translate(1122.5 1658.5) rotate(-90)">X170.2A7</text>
<text class="t1" transform="translate(935 1808) rotate(-90)">TSX17 PASSENGER COMP.</text><text class="t1" transform="translate(958 1808) rotate(-90)">TSX17 PASSENGER COMP.</text><text class="t1" transform="translate(1096 1808) rotate(-90)">TSX17 PASSENGER COMP.</text><text class="t1" transform="translate(1119 1808) rotate(-90)">TSX17 PASSENGER COMP.</text>
</g>
</svg>
